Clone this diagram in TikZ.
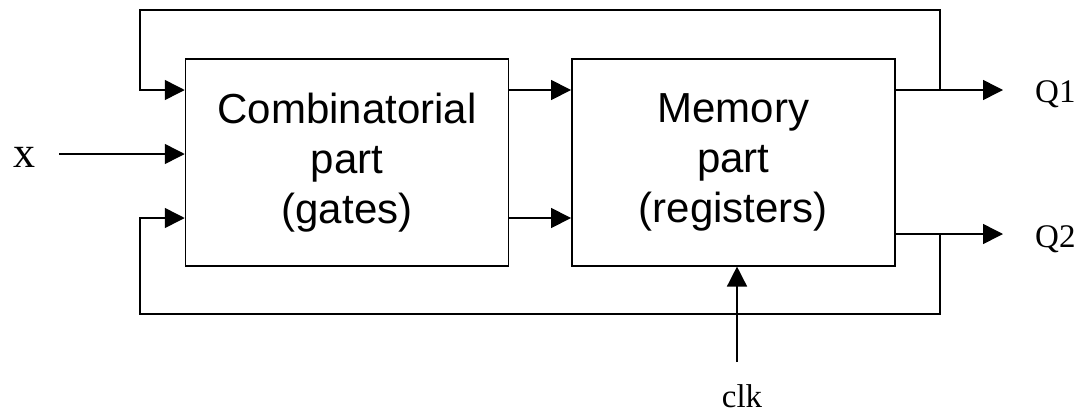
\documentclass[tikz,border=0pt]{standalone}
\usepackage{fontspec}
\setmainfont{Liberation Serif}
\setsansfont{Liberation Sans}
\usetikzlibrary{arrows.meta}
\begin{document}
\begin{tikzpicture}[x=1pt,y=-1pt,
  wire/.style={line width=1.5pt},
  arr/.style={wire,-{Triangle[length=20pt,width=20pt]}},
  block/.style={draw,line width=1.5pt,inner sep=0pt,minimum height=207pt,
    minimum width=323pt,align=center,
    font=\sffamily\fontsize{42}{50}\selectfont},
  sig/.style={font=\fontsize{33}{38}\selectfont,inner sep=0pt}]
\useasboundingbox (0,0) rectangle (1086,413);

% the two blocks
\node[block] (comb) at (347,162.3) {Combinatorial\\part\\(gates)};
\node[block] (mem) at (733.3,162.3) {Memory\\part\\(registers)};

% signal rows and loop corners
\coordinate (rowA) at (0,90);
\coordinate (rowB) at (0,218);
\coordinate (rowC) at (0,234);
\coordinate (xin) at (59,154);
\coordinate (tl) at (140,10);
\coordinate (tr) at (940,10);
\coordinate (bl) at (140,314);
\coordinate (br) at (940,314);
\coordinate (q1end) at (1003,90);
\coordinate (q2end) at (1003,234);
\coordinate (clkin) at (737,362);

% labels
\node[inner sep=0pt,anchor=base,font=\fontsize{44}{50}\selectfont] (xlab) at (24.7,167) {x};
\node[sig,anchor=base west] (q1lab) at (1035,102) {Q1};
\node[sig,anchor=base west] (q2lab) at (1035,247) {Q2};
\node[sig,anchor=base] (clklab) at (742,407) {clk};

% input and forward paths
\draw[arr] (xin) -- (xin -| comb.west);
\draw[arr] (comb.east |- rowA) -- (mem.west |- rowA);
\draw[arr] (comb.east |- rowB) -- (mem.west |- rowB);
\draw[arr] (clkin) -- (clkin |- mem.south);

% outputs
\draw[arr] (mem.east |- rowA) -- (q1end);
\draw[arr] (mem.east |- rowC) -- (q2end);

% feedback loops
\draw[arr] (tr |- rowA) -- (tr) -- (tl) -- (tl |- rowA) -- (comb.west |- rowA);
\draw[arr] (br |- rowC) -- (br) -- (bl) -- (bl |- rowB) -- (comb.west |- rowB);
\end{tikzpicture}
\end{document}
